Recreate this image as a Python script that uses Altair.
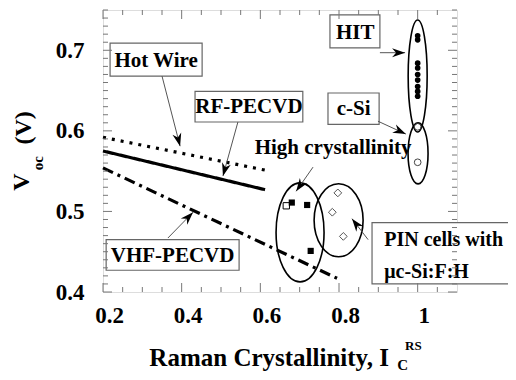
import math
import altair as alt
import pandas as pd

# ---------------- data ----------------
X0, X1 = 0.2, 1.1
Y0, Y1 = 0.4, 0.75
W, H = 354, 282

hw_x = [0.2, 0.625]
hw_y = [0.592, 0.550]
rf_x = [0.2, 0.612]
rf_y = [0.575, 0.527]
vhf_x = [0.2, 0.795]
vhf_y = [0.554, 0.417]

hit_x = [1.0, 1.0, 1.0, 1.0, 1.0, 1.0, 1.0, 1.0, 1.0]
hit_y = [0.718, 0.713, 0.684, 0.678, 0.670, 0.663, 0.655, 0.649, 0.643]
csi_x = [1.0, 1.0]
csi_y = [0.605, 0.561]
hcf_x = [0.680, 0.719, 0.728]
hcf_y = [0.511, 0.508, 0.451]
hco_x = [0.666]
hco_y = [0.507]
pin_x = [0.797, 0.783, 0.811]
pin_y = [0.523, 0.499, 0.469]

x_major = [0.2, 0.4, 0.6, 0.8, 1.0]
x_minor = [0.25, 0.3, 0.35, 0.45, 0.5, 0.55, 0.65, 0.7, 0.75, 0.85, 0.9, 0.95, 1.05]
y_major = [0.4, 0.5, 0.6, 0.7]
y_minor = [round(0.4 + 0.01 * i, 2) for i in range(36) if i % 10 != 0]

# annotation geometry (data coordinates)
ell_x = [1.0, 1.001, 0.701, 0.799]
ell_y = [0.668, 0.572, 0.474, 0.489]
ell_rx = [9.5, 10, 24, 24.5]
ell_ry = [56, 30.5, 49.5, 36.5]

box_x = [0.218, 0.434, 0.777, 0.772, 0.208, 0.884]
box_x2 = [0.452, 0.708, 0.904, 0.902, 0.546, 1.273]
box_y = [0.709, 0.649, 0.744, 0.647, 0.465, 0.486]
box_y2 = [0.668, 0.611, 0.703, 0.608, 0.427, 0.410]

lab_text = ["Hot Wire", "RF-PECVD", "HIT", "c-Si", "VHF-PECVD", "High crystallinity"]
lab_x = [0.335, 0.571, 0.841, 0.837, 0.377, 0.785]
lab_y = [0.687, 0.629, 0.722, 0.627, 0.445, 0.579]

pin_text = ["PIN cells with", "μc-Si:F:H"]
pin_tx = [0.915, 0.915]
pin_ty = [0.4645, 0.4248]

arr_x = [0.350, 0.543, 0.904, 0.899, 0.734, 0.874, 0.365]
arr_y = [0.668, 0.611, 0.697, 0.612, 0.555, 0.465, 0.467]
arr_x2 = [0.396, 0.505, 0.968, 0.970, 0.691, 0.833, 0.429]
arr_y2 = [0.581, 0.544, 0.697, 0.596, 0.525, 0.491, 0.499]

FONT = "Liberation Serif"

xs = alt.Scale(domain=[X0, X1], nice=False, zero=False)
ys = alt.Scale(domain=[Y0, Y1], nice=False, zero=False)
xaxis = alt.Axis(values=x_major, format=".1~f", title=None, grid=False, ticks=False,
                 domain=False, labelFont=FONT, labelFontWeight="bold", labelFontSize=23,
                 labelColor="black", labelPadding=12, labelFlush=False, labelOffset=6)
yaxis = alt.Axis(values=y_major, format=".1f", title=None, grid=False, ticks=False,
                 domain=False, labelFont=FONT, labelFontWeight="bold", labelFontSize=23,
                 labelColor="black", labelPadding=19, labelFlush=False)


def X(f):
    return alt.X(f, type="quantitative", scale=xs, axis=xaxis)


def Y(f):
    return alt.Y(f, type="quantitative", scale=ys, axis=yaxis)


layers = []

# lines
for lx, ly, dash in [(hw_x, hw_y, [3, 6]), (rf_x, rf_y, [1, 0]), (vhf_x, vhf_y, [11, 5, 3, 5])]:
    d = pd.DataFrame({"x": lx, "y": ly})
    layers.append(alt.Chart(d).mark_line(color="black", strokeWidth=3.2, strokeDash=dash,
                                         strokeCap="butt").encode(x=X("x"), y=Y("y")))

# ellipses
ell_paths = [f"M{-rx},0A{rx},{ry} 0 0 1 {rx},0A{rx},{ry} 0 0 1 {-rx},0Z"
             for rx, ry in zip(ell_rx, ell_ry)]
ed = pd.DataFrame({"x": ell_x, "y": ell_y, "p": ell_paths})
layers.append(alt.Chart(ed).mark_point(filled=False, color="black", strokeWidth=1.6, opacity=1).encode(
    x=X("x"), y=Y("y"), shape=alt.Shape("p:N", scale=None), size=alt.value(4)))

# points
layers.append(alt.Chart(pd.DataFrame({"x": hit_x, "y": hit_y})).mark_point(
    shape="circle", filled=True, color="black", size=32, opacity=1).encode(x=X("x"), y=Y("y")))
layers.append(alt.Chart(pd.DataFrame({"x": csi_x, "y": csi_y})).mark_point(
    shape="circle", filled=False, color="#444", size=45, strokeWidth=1, opacity=1).encode(x=X("x"), y=Y("y")))
layers.append(alt.Chart(pd.DataFrame({"x": hco_x, "y": hco_y})).mark_point(
    shape="square", filled=False, color="black", size=40, strokeWidth=1, opacity=1).encode(x=X("x"), y=Y("y")))
layers.append(alt.Chart(pd.DataFrame({"x": hcf_x, "y": hcf_y})).mark_point(
    shape="square", filled=True, color="black", size=38, opacity=1).encode(x=X("x"), y=Y("y")))
layers.append(alt.Chart(pd.DataFrame({"x": pin_x, "y": pin_y})).mark_point(
    shape="diamond", filled=False, color="#555", size=60, strokeWidth=1, opacity=1).encode(x=X("x"), y=Y("y")))

# boxes
bd = pd.DataFrame({"x": box_x, "x2": box_x2, "y": box_y, "y2": box_y2})
layers.append(alt.Chart(bd).mark_rect(fill="white", stroke="#666", strokeWidth=1.2).encode(
    x=X("x"), x2="x2", y=Y("y"), y2="y2"))

# labels
ld = pd.DataFrame({"x": lab_x, "y": lab_y, "t": lab_text})
layers.append(alt.Chart(ld).mark_text(font=FONT, fontWeight="bold", fontSize=21, color="black",
                                      align="center", baseline="middle").encode(
    x=X("x"), y=Y("y"), text="t:N"))
pd_ = pd.DataFrame({"x": pin_tx, "y": pin_ty, "t": pin_text})
layers.append(alt.Chart(pd_).mark_text(font=FONT, fontWeight="bold", fontSize=20, color="black",
                                       align="left", baseline="middle").encode(
    x=X("x"), y=Y("y"), text="t:N"))

# arrows
sx = W / (X1 - X0)
sy = H / (Y1 - Y0)
angles = []
for a, b, c, e in zip(arr_x, arr_y, arr_x2, arr_y2):
    dx = (c - a) * sx
    dy = -(e - b) * sy
    angles.append(math.degrees(math.atan2(dx, -dy)) % 360)
ad = pd.DataFrame({"x": arr_x, "y": arr_y, "x2": arr_x2, "y2": arr_y2, "ang": angles})
layers.append(alt.Chart(ad).mark_rule(color="#555", strokeWidth=1).encode(
    x=X("x"), y=Y("y"), x2="x2", y2="y2"))
layers.append(alt.Chart(ad).mark_point(filled=True, color="black", opacity=1,
                                       shape="M0,0L-4.5,13L0,9L4.5,13Z").encode(
    x=X("x2"), y=Y("y2"), angle=alt.Angle("ang:Q", scale=None), size=alt.value(4)))

# inward ticks on all four sides
TC = "#777"
for vals, ln in [(x_major, 9), (x_minor, 5)]:
    d = pd.DataFrame({"v": vals})
    layers.append(alt.Chart(d).mark_rule(color=TC, strokeWidth=1).encode(
        x=X("v"), y=alt.value(H), y2=alt.value(H - ln)))
    layers.append(alt.Chart(d).mark_rule(color=TC, strokeWidth=1).encode(
        x=X("v"), y=alt.value(0), y2=alt.value(ln)))
for vals, ln in [(y_major, 9), (y_minor, 5)]:
    d = pd.DataFrame({"v": vals})
    layers.append(alt.Chart(d).mark_rule(color=TC, strokeWidth=1).encode(
        y=Y("v"), x=alt.value(0), x2=alt.value(ln)))
    layers.append(alt.Chart(d).mark_rule(color=TC, strokeWidth=1).encode(
        y=Y("v"), x=alt.value(W), x2=alt.value(W - ln)))

# axis titles
xt = pd.DataFrame({"x": [0.927], "y": [0.3175], "t": ["Raman Crystallinity, I"]})
layers.append(alt.Chart(xt).mark_text(font=FONT, fontWeight="bold", fontSize=25, color="black",
                                      align="right", baseline="middle").encode(
    x=X("x"), y=Y("y"), text="t:N"))
xs1 = pd.DataFrame({"x": [0.948], "y": [0.3094], "t": ["C"]})
layers.append(alt.Chart(xs1).mark_text(font=FONT, fontWeight="bold", fontSize=15, color="black",
                                       align="left", baseline="middle").encode(
    x=X("x"), y=Y("y"), text="t:N"))
xs2 = pd.DataFrame({"x": [0.968], "y": [0.3335], "t": ["RS"]})
layers.append(alt.Chart(xs2).mark_text(font=FONT, fontWeight="bold", fontSize=13, color="black",
                                       align="left", baseline="middle").encode(
    x=X("x"), y=Y("y"), text="t:N"))

yt = pd.DataFrame({"x": [-0.005, 0.035, 0.0], "y": [0.5365, 0.560, 0.6036],
                   "t": ["V", "oc", "(V)"], "s": [24, 15, 24]})
for i in range(3):
    layers.append(alt.Chart(yt.iloc[[i]]).mark_text(
        font=FONT, fontWeight="bold", fontSize=int(yt["s"][i]), color="black",
        align="center", baseline="middle", angle=270).encode(
        x=X("x"), y=Y("y"), text="t:N"))

chart = alt.layer(*layers).properties(
    width=W, height=H,
    autosize=alt.AutoSizeParams(type="none"),
    padding={"left": 95, "top": 2, "right": 51, "bottom": 80},
).configure_view(stroke="#777", strokeWidth=1.5).configure(background="white")

chart.save("out.html", embed_options={"renderer": "svg", "actions": False})
